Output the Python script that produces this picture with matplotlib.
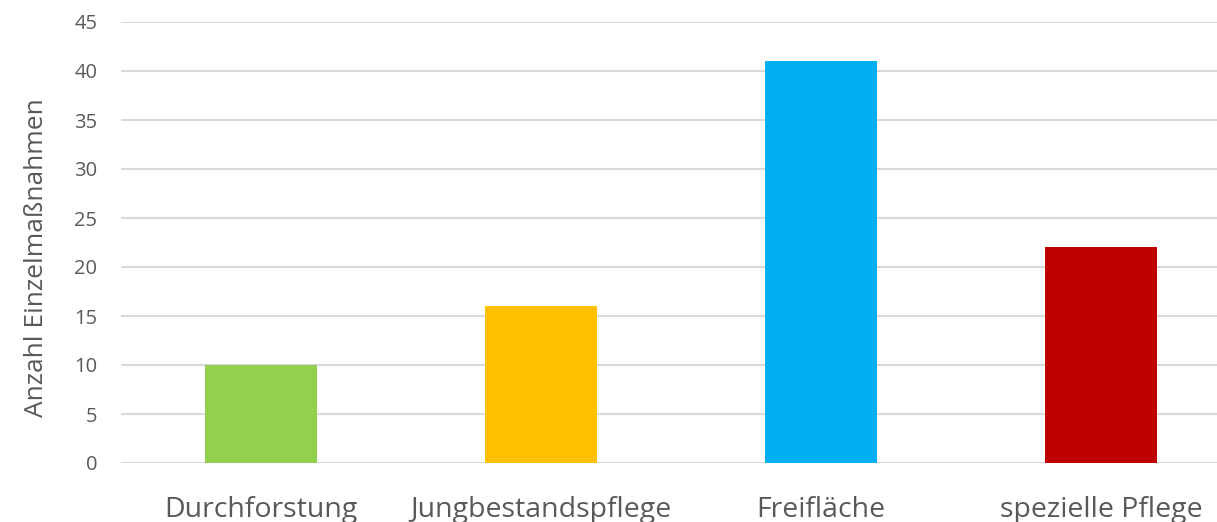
import matplotlib
matplotlib.use("Agg")
import matplotlib.pyplot as plt

categories = ["Durchforstung", "Jungbestandspflege", "Freifläche", "spezielle Pflege"]
values = [10, 16, 41, 22]
colors = ["#92D050", "#FFC000", "#00B0F0", "#C00000"]
yticks = [0, 5, 10, 15, 20, 25, 30, 35, 40, 45]

plt.rcParams['font.family'] = ['Open Sans', 'DejaVu Sans']
text_color = "#595959"

fig = plt.figure(figsize=(12.17, 5.22), dpi=100)
ax = fig.add_axes([121/1217, 59/522, 1120/1217, 441/522])

x = list(range(len(categories)))
ax.bar(x, values, width=0.4, color=colors, zorder=3)
ax.set_xlim(-0.5, 3.5)
ax.set_ylim(0, 45)
ax.set_yticks(yticks)
ax.set_xticks(x)
ax.set_xticklabels(categories)
ax.yaxis.grid(True, color="#D9D9D9", linewidth=1.5, zorder=0)
ax.xaxis.grid(False)
for s in ax.spines.values():
    s.set_visible(False)
ax.tick_params(axis='y', length=0, pad=17, labelsize=14.5, labelcolor=text_color)
ax.tick_params(axis='x', length=0, pad=24, labelsize=20.5, labelcolor=text_color)
ax.set_ylabel("Anzahl Einzelmaßnahmen", fontsize=19, color=text_color,
              va='center', ha='center')
ax.yaxis.set_label_coords(-0.075, 0.465)

fig.savefig("out.png", dpi=100)
